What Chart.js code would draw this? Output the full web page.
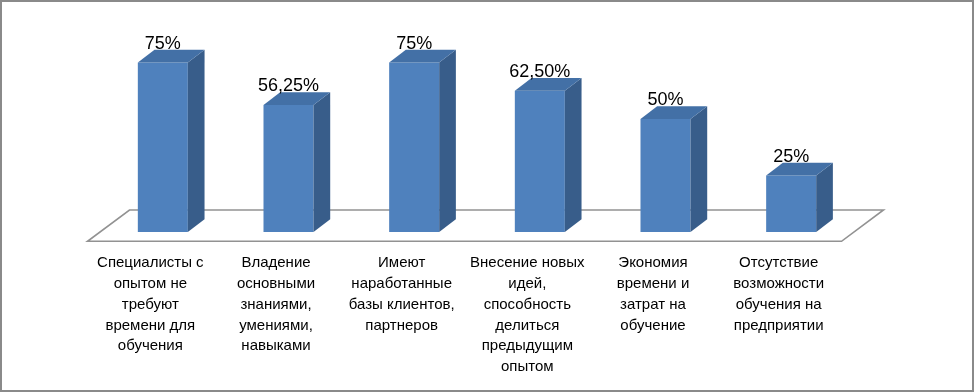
<!DOCTYPE html>
<html>
<head>
<meta charset="utf-8">
<script src="https://cdn.jsdelivr.net/npm/chart.js@4/dist/chart.umd.min.js"></script>
<style>
  html, body { margin: 0; padding: 0; background: #ffffff; }
  #wrap { position: relative; width: 974px; height: 392px; }
  #c { position: absolute; left: 0; top: 0; }
  #frame { position: absolute; left: 0; top: 0; width: 974px; height: 392px; box-sizing: border-box; border: 2px solid #8a8a8a; pointer-events: none; }
</style>
</head>
<body>
<div id="wrap">
  <canvas id="c" width="974" height="392"></canvas>
  <div id="frame"></div>
</div>
<script>
// ---- data ----
const categories = [
  ["Специалисты с", "опытом не", "требуют", "времени для", "обучения"],
  ["Владение", "основными", "знаниями,", "умениями,", "навыками"],
  ["Имеют", "наработанные", "базы клиентов,", "партнеров"],
  ["Внесение новых", "идей,", "способность", "делиться", "предыдущим", "опытом"],
  ["Экономия", "времени и", "затрат на", "обучение"],
  ["Отсутствие", "возможности", "обучения на", "предприятии"]
];
const values = [75, 56.25, 75, 62.5, 50, 25];

function fmtPct(v) {
  return (Number.isInteger(v) ? String(v) : v.toFixed(2).replace('.', ',')) + '%';
}

// ---- 3D look ----
const DEPTH_X = 16.7, DEPTH_Y = 12.7;
const FRONT = '#4F81BD', SIDE = '#385D8A', TOP = '#4370A6';

const floorPlugin = {
  id: 'floor3d',
  beforeDatasetsDraw(chart) {
    const ctx = chart.ctx, a = chart.chartArea;
    const y0 = chart.scales.y.getPixelForValue(0);
    const fdy = 9.3, bdy = -22, r = 1.34;
    ctx.save();
    ctx.beginPath();
    ctx.moveTo(a.left - fdy * r, y0 + fdy);
    ctx.lineTo(a.right - fdy * r, y0 + fdy);
    ctx.lineTo(a.right - bdy * r, y0 + bdy);
    ctx.lineTo(a.left - bdy * r, y0 + bdy);
    ctx.closePath();
    ctx.fillStyle = '#ffffff';
    ctx.fill();
    ctx.lineWidth = 1.6;
    ctx.strokeStyle = '#929292';
    ctx.stroke();
    ctx.restore();
  }
};

const barsPlugin = {
  id: 'bars3d',
  afterDatasetsDraw(chart) {
    const ctx = chart.ctx;
    const meta = chart.getDatasetMeta(0);
    ctx.save();
    meta.data.forEach((bar, i) => {
      const p = bar.getProps(['x', 'y', 'base', 'width'], true);
      const l = p.x - p.width / 2, r = p.x + p.width / 2;
      // side face
      ctx.beginPath();
      ctx.moveTo(r, p.y);
      ctx.lineTo(r + DEPTH_X, p.y - DEPTH_Y);
      ctx.lineTo(r + DEPTH_X, p.base - DEPTH_Y);
      ctx.lineTo(r, p.base);
      ctx.closePath();
      ctx.fillStyle = SIDE;
      ctx.fill();
      // top face
      ctx.beginPath();
      ctx.moveTo(l, p.y);
      ctx.lineTo(l + DEPTH_X, p.y - DEPTH_Y);
      ctx.lineTo(r + DEPTH_X, p.y - DEPTH_Y);
      ctx.lineTo(r, p.y);
      ctx.closePath();
      ctx.fillStyle = TOP;
      ctx.fill();
      // value label
      ctx.fillStyle = '#000000';
      ctx.font = '18px "Liberation Sans", Arial, sans-serif';
      ctx.textAlign = 'center';
      ctx.textBaseline = 'alphabetic';
      ctx.fillText(fmtPct(values[i]), p.x, p.y - 14);
    });
    ctx.restore();
  }
};

new Chart(document.getElementById('c'), {
  type: 'bar',
  data: {
    labels: categories,
    datasets: [{
      data: values,
      backgroundColor: FRONT,
      borderWidth: 0,
      barPercentage: 0.398,
      categoryPercentage: 1.0
    }]
  },
  options: {
    responsive: false,
    animation: false,
    devicePixelRatio: 1,
    layout: { padding: { left: 100, right: 120, top: 6, bottom: 0 } },
    plugins: { legend: { display: false }, tooltip: { enabled: false }, title: { display: false } },
    scales: {
      y: { display: false, min: 0, max: 100 },
      x: {
        grid: { display: false, drawTicks: false },
        border: { display: false },
        ticks: {
          color: '#000000',
          font: { family: '"Liberation Sans", Arial, sans-serif', size: 15, lineHeight: 1.38 },
          padding: 21,
          labelOffset: -12.5,
          maxRotation: 0,
          autoSkip: false
        },
        afterFit(scale) { scale.height = 160; }
      }
    }
  },
  plugins: [floorPlugin, barsPlugin]
});
</script>
</body>
</html>
